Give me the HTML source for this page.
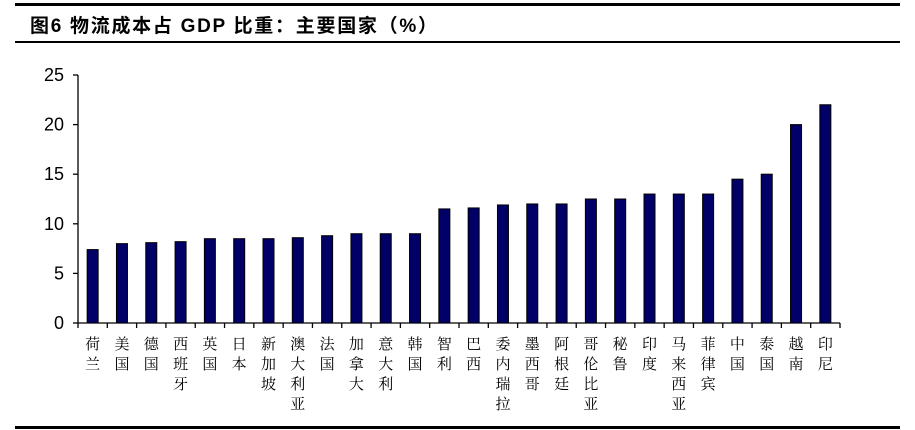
<!DOCTYPE html>
<html><head><meta charset="utf-8"><style>
body{margin:0;background:#fff;width:915px;height:430px;overflow:hidden}
svg{display:block}
</style></head><body>
<svg width="915" height="430">
<rect x="15" y="3" width="885" height="3" fill="#000"/>
<text x="30" y="32" textLength="407" lengthAdjust="spacing" font-family="Liberation Sans, Noto Sans CJK SC, sans-serif" font-size="19" font-weight="bold">图6  物流成本占 GDP 比重：主要国家（%）</text>
<rect x="15" y="41" width="885" height="2" fill="#000"/>
<rect x="15" y="426" width="885" height="3" fill="#000"/>
<g id="plot"></g>
</svg>
<script>
const categories=["荷兰","美国","德国","西班牙","英国","日本","新加坡","澳大利亚","法国","加拿大","意大利","韩国","智利","巴西","委内瑞拉","墨西哥","阿根廷","哥伦比亚","秘鲁","印度","马来西亚","菲律宾","中国","泰国","越南","印尼"];
const values=[7.4,8,8.1,8.2,8.5,8.5,8.5,8.6,8.8,9,9,9,11.5,11.6,11.9,12,12,12.5,12.5,13,13,13,14.5,15,20,22];
const yTicks=[0,5,10,15,20,25];
const NS="http://www.w3.org/2000/svg";
const g=document.getElementById('plot');
const x0=78,x1=840,yBase=323,yTop=75,yMax=25;
const step=(x1-x0)/categories.length;
const y=v=>yBase-(v/yMax)*(yBase-yTop);
const xc=i=>x0+step*(i+0.5);
function mk(t,a){const e=document.createElementNS(NS,t);for(const k in a)e.setAttribute(k,a[k]);g.appendChild(e);return e;}
let ax=mk('line',{x1:x0,y1:yTop,x2:x0,y2:yBase,stroke:'#000','stroke-width':1.3});


let bx=mk('line',{x1:x0,y1:yBase,x2:x1,y2:yBase,stroke:'#000','stroke-width':1.3});


yTicks.forEach(t=>{
 let l=mk('line',{x1:x0-5,y1:y(t),x2:x0,y2:y(t),stroke:'#000','stroke-width':1.3});
 
 
 let tx=mk('text',{x:x0-14,y:y(t)+6,'text-anchor':'end','font-family':'Liberation Sans, sans-serif','font-size':18});
 tx.textContent=t;
 
 
});
for(let i=0;i<=categories.length;i++){
 let l=mk('line',{x1:x0+step*i,y1:yBase,x2:x0+step*i,y2:yBase+5,stroke:'#000','stroke-width':1.3});
 
 
}
categories.forEach((c,i)=>{
 let r=mk('rect',{x:xc(i)-5.5,y:y(values[i]),width:11,height:yBase-y(values[i]),fill:'#000066',stroke:'#000','stroke-width':1});
 
 
 [...c].forEach((ch,j)=>{
  let t=mk('text',{x:xc(i),y:349+j*20,'text-anchor':'middle','font-family':'Noto Serif CJK SC, Liberation Serif, serif','font-size':15});
  t.textContent=ch;
  
  
 });
});
</script>
</body></html>
